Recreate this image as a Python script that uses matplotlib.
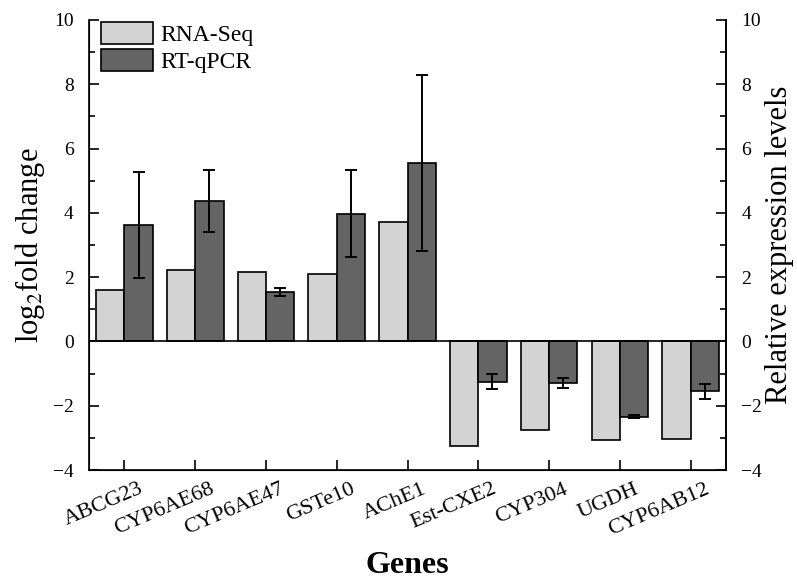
import numpy as np
import matplotlib
matplotlib.use("Agg")
import matplotlib.pyplot as plt
import matplotlib.transforms as mtransforms
from matplotlib.ticker import MultipleLocator

plt.rcParams["font.family"] = ["Liberation Serif", "DejaVu Serif"]
plt.rcParams["mathtext.fontset"] = "stix"

genes = ["ABCG23", "CYP6AE68", "CYP6AE47", "GSTe10", "AChE1",
         "Est-CXE2", "CYP304", "UGDH", "CYP6AB12"]
rna_seq = [1.59, 2.21, 2.16, 2.09, 3.72, -3.25, -2.74, -3.07, -3.03]
qpcr = [3.62, 4.37, 1.54, 3.97, 5.55, -1.25, -1.29, -2.34, -1.55]
qpcr_err = [1.66, 0.97, 0.12, 1.35, 2.73, 0.24, 0.16, 0.05, 0.23]

fig = plt.figure(figsize=(7.97, 5.81), dpi=100)
ax = fig.add_axes([0.1117, 0.191, 0.7993, 0.7746])

x = np.arange(len(genes))
w = 0.4
ax.bar(x - w / 2, rna_seq, w, color="#d3d3d3", edgecolor="black",
       linewidth=1.2, label="RNA-Seq", zorder=2)
ax.bar(x + w / 2, qpcr, w, color="#646464", edgecolor="black",
       linewidth=1.2, label="RT-qPCR", zorder=2)
ax.errorbar(x + w / 2, qpcr, yerr=qpcr_err, fmt="none", ecolor="black",
            elinewidth=1.4, capsize=4, capthick=1.4, zorder=3)
ax.axhline(0, color="black", linewidth=1.2, zorder=4)

ax.set_xlim(-0.5, len(genes) - 0.5)
ax.set_ylim(-4, 10)
ax.yaxis.set_major_locator(MultipleLocator(2))
ax.yaxis.set_minor_locator(MultipleLocator(1))
ax.set_xticks(x)
ax.tick_params(axis="x", direction="in", length=7, width=1.2, pad=7)
ax.tick_params(axis="y", direction="in", length=7, width=1.2, labelsize=14,
               pad=11)
ax.tick_params(axis="y", which="minor", direction="in", length=4, width=1.2)
ax.set_xticklabels(genes, rotation=23, ha="right", rotation_mode="anchor",
                   fontsize=16)
# shift the rotated labels a bit to the right of their ticks
offset = mtransforms.ScaledTranslation(14 / 100, 0, fig.dpi_scale_trans)
for lbl in ax.get_xticklabels():
    lbl.set_transform(lbl.get_transform() + offset)
ax.spines["top"].set_visible(False)
for s in ["left", "right", "bottom"]:
    ax.spines[s].set_linewidth(1.2)

ax.set_ylabel(r"log$_2$fold change", fontsize=22, labelpad=4)
ax.set_xlabel("Genes", fontsize=23, fontweight="bold", va="baseline")
ax.xaxis.set_label_coords(0.5, -0.228)

ax2 = ax.twinx()
ax2.set_ylim(-4, 10)
ax2.yaxis.set_major_locator(MultipleLocator(2))
ax2.yaxis.set_minor_locator(MultipleLocator(1))
ax2.tick_params(axis="y", direction="in", length=7, width=1.2, labelsize=14,
                pad=11)
ax2.tick_params(axis="y", which="minor", direction="in", length=4, width=1.2)
ax2.spines["top"].set_visible(False)
ax2.spines["right"].set_linewidth(1.2)
ax2.set_ylabel("Relative expression levels", fontsize=22, labelpad=2)

ax.legend(loc="upper left", frameon=False, fontsize=17, handlelength=2.2,
          handleheight=1.05, borderaxespad=0.0, borderpad=0.1,
          handletextpad=0.3, labelspacing=0.12, bbox_to_anchor=(0.015, 1.0))

fig.savefig("out.png", dpi=100)
